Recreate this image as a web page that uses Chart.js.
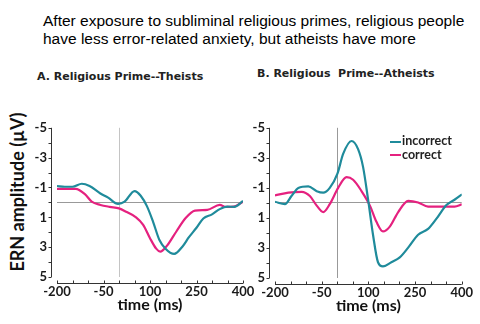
<!DOCTYPE html>
<html>
<head>
<meta charset="utf-8">
<script src="https://cdn.jsdelivr.net/npm/chart.js@4.4.1/dist/chart.umd.min.js"></script>
<style>
    body { margin: 0; background: #fff; }
    #wrap { position: relative; width: 480px; height: 324px; overflow: hidden; background: #fff; }
    #title { position: absolute; left: 43px; top: 12px; font: 15.5px/17.5px "Liberation Sans", Arial, sans-serif; color: #000; white-space: nowrap; }
    .ptitle { position: absolute; font: bold 11px/11px "DejaVu Sans", sans-serif; color: #222; white-space: nowrap; }
    #titleA { left: 37px; top: 71px; }
    #titleB { left: 257px; top: 68px; }
    #ylabel { position: absolute; left: 17px; top: 192px; transform: translate(-50%, -50%) rotate(-90deg); font: bold 18px Lato, sans-serif; color: #111; white-space: nowrap; }
    canvas { position: absolute; }
    #chartA { left: 0; top: 110px; }
    #chartB { left: 250px; top: 110px; }
    #legend { position: absolute; left: 390px; top: 134px; font: bold 12.5px/13.5px Lato, sans-serif; color: #222; }
    #legend span.ln { display: inline-block; width: 11px; height: 2px; vertical-align: middle; margin-right: 1px; }
</style>
</head>
<body>
<div id="wrap">
    <div id="title">After exposure to subliminal religious primes, religious people<br>have less error-related anxiety, but atheists have more</div>
    <div class="ptitle" id="titleA">A. Religious Prime--Theists</div>
    <div class="ptitle" id="titleB">B. Religious&nbsp; Prime--Atheists</div>
    <div id="ylabel">ERN amplitude (µV)</div>
    <canvas id="chartA" width="265" height="214"></canvas>
    <canvas id="chartB" width="230" height="214"></canvas>
    <div id="legend"></div>
</div>
<script>
// Panel A: religious prime, theists (time in ms, amplitude in microvolts)
const timeA_incorrect = [-200, -175, -150, -120, -95, -60, -35, -3, 18, 50, 70, 90, 110, 130, 150, 178, 205, 225, 250, 272, 300, 325, 350, 372, 400];
const ampA_incorrect  = [-1.1, -1.05, -1.05, -1.25, -1.1, -0.6, -0.32, 0.1, -0.05, -0.76, -0.45, 0.25, 1.3, 2.5, 3.1, 3.45, 2.95, 2.35, 1.7, 1.08, 0.8, 0.45, 0.28, 0.3, -0.1];
const timeA_correct   = [-200, -140, -110, -88, -60, -30, 0, 25, 55, 78, 100, 120, 133, 155, 185, 215, 245, 285, 325, 345, 370, 400];
const ampA_correct    = [-0.9, -0.9, -0.55, -0.05, 0.17, 0.3, 0.4, 0.65, 1.0, 1.5, 2.4, 3.1, 3.3, 2.9, 1.95, 1.05, 0.55, 0.5, 0.17, 0.3, 0.28, -0.05];

// Panel B: religious prime, atheists
const timeB_incorrect = [-200, -168, -147, -125, -93, -66, -45, -24, 1, 19, 46, 67, 83, 99, 115, 131, 147, 174, 201, 228, 260, 292, 319, 351, 377, 401];
const ampB_incorrect  = [-0.08, 0.08, -0.46, -1.0, -1.1, -0.78, -0.68, -1.0, -1.97, -3.26, -4.12, -3.58, -2.4, -0.25, 2.12, 3.95, 4.23, 3.95, 3.63, 2.98, 2.12, 1.73, 1.05, 0.14, -0.21, -0.57];
const timeB_correct   = [-200, -157, -114, -88, -66, -45, -24, 3, 30, 51, 78, 105, 126, 147, 169, 196, 228, 260, 292, 335, 377, 401];
const ampB_correct    = [-0.5, -0.68, -0.74, -0.46, 0.18, 0.61, 0.08, -1.0, -1.71, -1.54, -0.79, 0.18, 1.26, 1.9, 1.58, 0.61, -0.14, -0.03, 0.25, 0.25, 0.25, 0.1];

const seriesNames  = ['incorrect', 'correct'];
const seriesColors = ['#1f8b9b', '#e5217f'];
const xTickLabels  = [-200, -50, 100, 250, 400];
const yTickLabels  = [-5, -3, -1, 1, 3, 5];

Chart.defaults.font.family = 'Lato, sans-serif';
Chart.defaults.color = '#1a1a1a';

function toPoints(times, amps) {
    return times.map((t, i) => ({ x: t, y: amps[i] }));
}

// axes in the original sit a few pixels away from the plot area, ticks every 50 ms / 1 uV
const detachedAxes = {
    id: 'detachedAxes',
    afterDraw(chart) {
        const { ctx, chartArea, scales: { x, y } } = chart;
        const ax = Math.round(chartArea.left - 6) + 0.5;
        const ay = Math.round(chartArea.bottom + 6) + 0.5;
        ctx.save();
        ctx.strokeStyle = '#333';
        ctx.lineWidth = 1;
        ctx.beginPath();
        ctx.moveTo(ax, y.getPixelForValue(y.min));
        ctx.lineTo(ax, y.getPixelForValue(y.max));
        y.ticks.forEach(t => {
            const py = Math.round(y.getPixelForValue(t.value)) + 0.5;
            ctx.moveTo(ax - 3, py);
            ctx.lineTo(ax, py);
        });
        ctx.moveTo(x.getPixelForValue(x.min), ay);
        ctx.lineTo(x.getPixelForValue(x.max), ay);
        x.ticks.forEach(t => {
            const px = Math.round(x.getPixelForValue(t.value)) + 0.5;
            ctx.moveTo(px, ay);
            ctx.lineTo(px, ay - 3);
        });
        ctx.stroke();
        ctx.restore();
    }
};

function makeChart(id, incorrect, correct, opts) {
    const ctx = document.getElementById(id).getContext('2d');
    return new Chart(ctx, {
        type: 'line',
        data: {
            datasets: [incorrect, correct].map((pts, i) => ({
                label: seriesNames[i],
                data: pts,
                borderColor: seriesColors[i],
                borderWidth: 2.2,
                pointRadius: 0,
                cubicInterpolationMode: 'monotone',
                fill: false
            }))
        },
        options: {
            responsive: false,
            animation: false,
            layout: { padding: { left: 0, right: opts.padRight, top: 13, bottom: opts.padBottom } },
            plugins: { legend: { display: false }, tooltip: { enabled: false } },
            scales: {
                x: {
                    type: 'linear',
                    min: -200,
                    max: 400,
                    border: { display: false },
                    grid: {
                        drawTicks: false,
                        lineWidth: 1,
                        color: c => (c.tick && c.tick.value === 0) ? opts.vLine : 'rgba(0,0,0,0)'
                    },
                    ticks: {
                        stepSize: 50,
                        autoSkip: false,
                        maxRotation: 0,
                        padding: 7,
                        font: { size: 13, weight: 'bold' },
                        callback: v => xTickLabels.includes(v) ? String(v) : ''
                    },
                    title: {
                        display: true,
                        text: 'time (ms)',
                        font: { size: 16, weight: 'bold' },
                        color: '#111',
                        padding: { top: 0, bottom: 3 }
                    },
                    afterFit: s => { s.height = 40; }
                },
                y: {
                    type: 'linear',
                    min: -5,
                    max: 5,
                    reverse: true,
                    border: { display: false },
                    grid: {
                        drawTicks: false,
                        lineWidth: 1,
                        color: c => (c.tick && c.tick.value === 0) ? opts.hLine : 'rgba(0,0,0,0)'
                    },
                    ticks: {
                        stepSize: 1,
                        autoSkip: false,
                        padding: 10,
                        font: { size: 13, weight: 'bold' },
                        callback: v => yTickLabels.includes(v) ? String(v) : ''
                    },
                    afterFit: s => { s.width = opts.yWidth; }
                }
            }
        },
        plugins: [detachedAxes]
    });
}

makeChart('chartA',
    toPoints(timeA_incorrect, ampA_incorrect),
    toPoints(timeA_correct, ampA_correct),
    { padRight: 22, padBottom: 7, yWidth: 57, vLine: '#c4c4c4', hLine: '#999' });

makeChart('chartB',
    toPoints(timeB_incorrect, ampB_incorrect),
    toPoints(timeB_correct, ampB_correct),
    { padRight: 18, padBottom: 6, yWidth: 25, vLine: '#999', hLine: '#999' });

// legend for the right panel
document.getElementById('legend').innerHTML = seriesNames.map((name, i) =>
    '<div><span class="ln" style="background:' + seriesColors[i] + '"></span>' + name + '</div>'
).join('');
</script>
</body>
</html>
